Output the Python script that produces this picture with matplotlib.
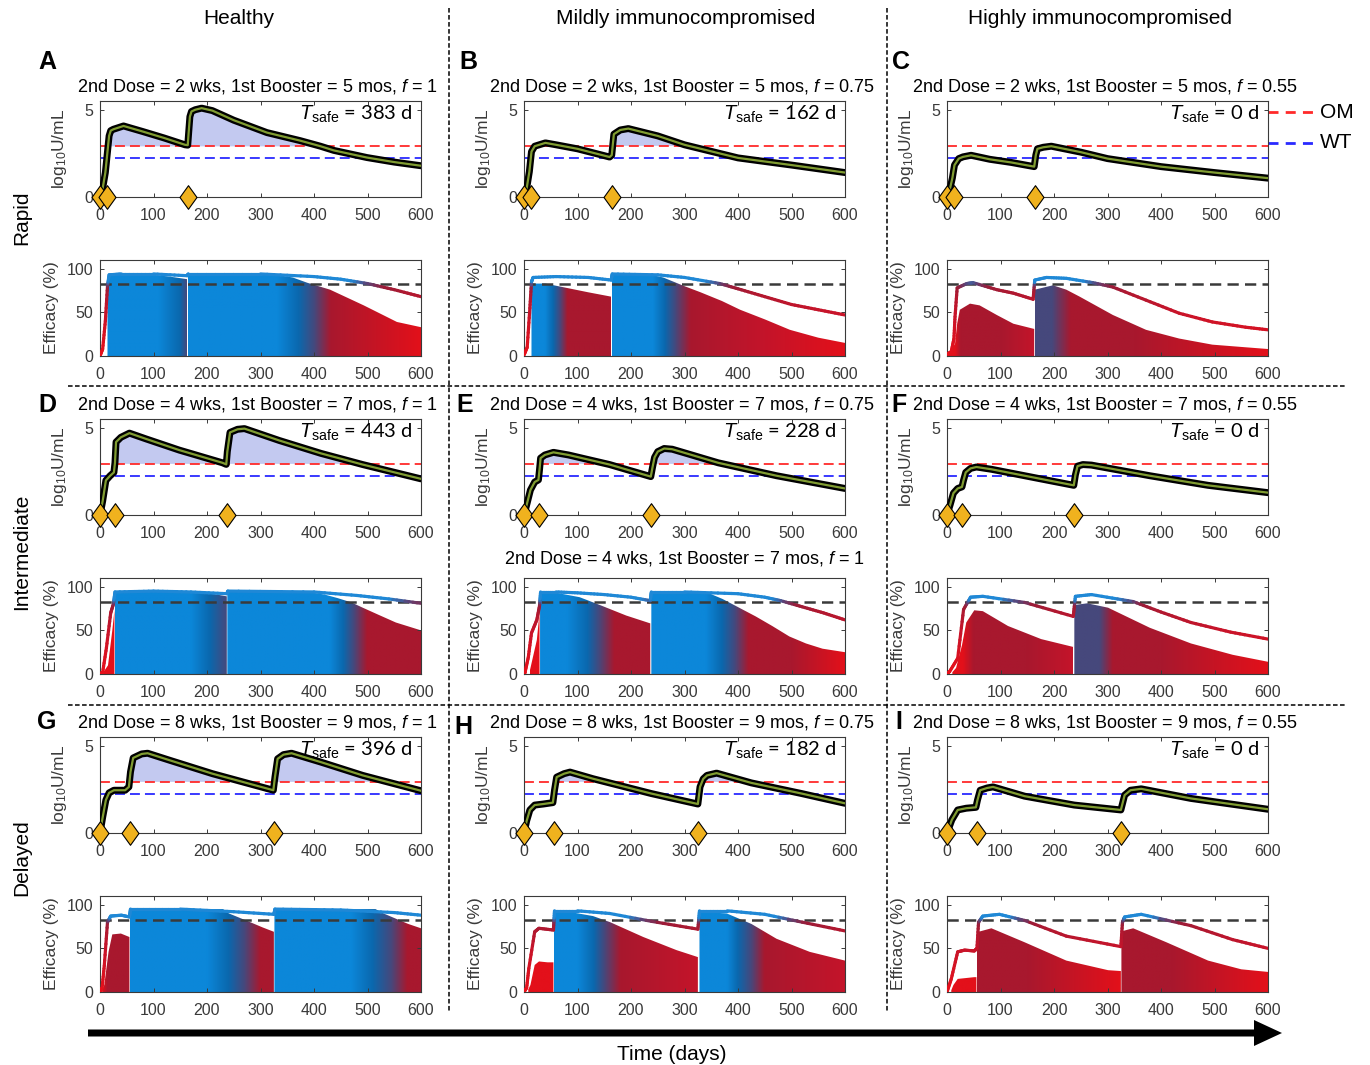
import numpy as np
import matplotlib
matplotlib.use("Agg")
import matplotlib.pyplot as plt
from matplotlib.collections import LineCollection
from matplotlib.colors import LinearSegmentedColormap
from matplotlib.patches import Polygon, FancyArrow
from matplotlib.path import Path

plt.rcParams['font.family'] = ['Liberation Sans', 'DejaVu Sans']
plt.rcParams['mathtext.fontset'] = 'custom'
plt.rcParams['mathtext.rm'] = 'Liberation Sans'
plt.rcParams['mathtext.it'] = 'Liberation Sans:italic'

# ---------------- data ----------------
groups = ["Healthy", "Mildly immunocompromised", "Highly immunocompromised"]
schedules = ["Rapid", "Intermediate", "Delayed"]
f_values = ["1", "0.75", "0.55"]
dose_wks = [2, 4, 8]
booster_mos = [5, 7, 9]
second_dose_day = [14, 28, 56]
booster_day = [164, 238, 326]
tsafe = [[383, 162, 0], [443, 228, 0], [396, 182, 0]]
OM_level = 2.93
WT_level = 2.25
eff_threshold = 83

# antibody titre, log10 U/mL  (day, value)
ab_A = [(0, 0), (5, 0.5), (10, 1.4), (14, 2.6), (17, 3.5), (20, 3.8), (25, 3.88), (44, 4.07), (80, 3.75),
        (120, 3.38), (159, 2.99), (164, 2.97), (166, 3.8), (168, 4.6), (171, 4.9), (178, 5.0), (190, 5.09),
        (210, 4.95), (250, 4.4), (312, 3.69), (374, 3.23), (412, 2.91), (437, 2.67), (499, 2.26),
        (550, 2.0), (600, 1.79)]
ab_B = [(0, 0), (5, 0.5), (10, 1.45), (14, 2.6), (20, 2.91), (40, 3.1), (60, 2.99), (100, 2.76), (160, 2.29),
        (164, 2.4), (166, 3.0), (168, 3.6), (180, 3.84), (195, 3.92), (250, 3.5), (300, 2.99), (400, 2.24),
        (500, 1.83), (600, 1.4)]
ab_C = [(0, 0), (5, 0.4), (10, 1.08), (14, 1.83), (22, 2.2), (30, 2.3), (45, 2.39), (80, 2.16), (120, 1.98),
        (163, 1.74), (166, 2.4), (169, 2.76), (180, 2.85), (195, 2.91), (250, 2.57), (300, 2.2), (400, 1.74),
        (500, 1.4), (600, 1.08)]
ab_D = [(0, 0), (5, 0.8), (11, 1.98), (19, 2.25), (26, 2.44), (28, 3.0), (30, 4.18), (39, 4.45), (55, 4.69),
        (86, 4.36), (148, 3.72), (229, 2.99), (236, 2.9), (238, 3.63), (243, 4.73), (257, 4.91), (270, 4.95),
        (335, 4.27), (413, 3.53), (491, 2.89), (600, 2.07)]
ab_E = [(0, 0), (6, 0.7), (12, 1.43), (20, 1.89), (27, 2.01), (29, 2.6), (31, 3.26), (39, 3.44), (55, 3.59),
        (83, 3.44), (160, 2.89), (237, 2.2), (240, 2.7), (244, 3.3), (250, 3.63), (262, 3.81), (277, 3.77),
        (363, 2.99), (472, 2.25), (600, 1.52)]
ab_F = [(0, 0), (6, 0.6), (12, 1.25), (20, 1.52), (28, 1.61), (31, 2.0), (35, 2.44), (44, 2.67), (55, 2.75),
        (83, 2.62), (145, 2.25), (237, 1.7), (240, 2.3), (244, 2.8), (254, 2.89), (270, 2.86), (379, 2.25),
        (488, 1.7), (600, 1.28)]
ab_G = [(0, 0), (5, 0.9), (11, 1.89), (17, 2.3), (26, 2.45), (47, 2.45), (54, 2.64), (57, 3.5), (62, 4.3),
        (78, 4.53), (89, 4.57), (132, 4.15), (210, 3.4), (324, 2.45), (327, 3.2), (332, 4.25), (343, 4.49),
        (358, 4.57), (413, 4.06), (491, 3.3), (600, 2.42)]
ab_H = [(0, 0), (5, 0.7), (11, 1.32), (20, 1.6), (36, 1.66), (54, 1.74), (57, 2.45), (61, 3.2), (75, 3.4),
        (86, 3.49), (129, 3.11), (238, 2.26), (325, 1.66), (329, 2.64), (335, 3.1), (342, 3.3), (360, 3.43),
        (425, 2.87), (519, 2.26), (600, 1.7)]
ab_I = [(0, 0), (9, 0.75), (20, 1.32), (36, 1.42), (54, 1.47), (57, 1.89), (62, 2.45), (75, 2.58), (86, 2.64),
        (145, 2.11), (238, 1.6), (325, 1.32), (329, 1.8), (332, 2.17), (343, 2.45), (363, 2.53), (456, 1.98),
        (600, 1.36)]

# efficacy (%) upper curve (day, value)
line_A = [(0, 0), (5, 8), (10, 40), (14, 80), (17, 93), (40, 94), (100, 94), (163, 92), (165, 94), (300, 94),
          (400, 91), (450, 88), (500, 83), (550, 76), (600, 68)]
line_B = [(0, 1), (6, 10), (11, 55), (14, 85), (17, 90), (60, 91), (120, 90), (163, 87), (165, 94), (250, 93),
          (300, 90), (366, 83), (400, 77), (450, 68), (500, 59), (550, 53), (600, 47)]
line_C = [(0, 2), (8, 5), (13, 20), (15, 45), (19, 78), (37, 83), (49, 84), (93, 76), (124, 72), (161, 65),
          (164, 87), (186, 90), (223, 89), (273, 84), (310, 79), (372, 64), (434, 49), (496, 39), (558, 33),
          (600, 30)]
line_D = [(0, 0), (5, 2), (12, 30), (20, 70), (25, 80), (28, 94), (100, 95), (170, 94), (237, 92), (239, 95),
          (400, 94), (480, 90), (540, 86), (600, 81)]
line_E = [(0, 0), (2, 2), (8, 19), (14, 47), (24, 62), (29, 78), (31, 94), (60, 94), (100, 93), (150, 91),
          (200, 88), (236, 84), (238, 94), (300, 94), (400, 92), (450, 88), (480, 84), (520, 77), (560, 70),
          (600, 62)]
line_F = [(0, 0), (5, 3), (20, 18), (31, 74), (44, 88), (67, 89), (145, 82), (236, 66), (240, 89), (270, 91),
          (348, 83), (400, 71), (456, 59), (530, 48), (600, 40)]
line_G = [(0, 0), (4, 5), (8, 30), (14, 80), (20, 87), (40, 88), (55, 86), (57, 95), (150, 95), (250, 92),
          (325, 89), (327, 95), (450, 94), (550, 91), (600, 88)]
line_H = [(0, 0), (5, 5), (9, 27), (20, 69), (28, 73), (55, 71), (57, 93), (100, 93), (160, 90), (238, 81),
          (325, 72), (328, 93), (380, 93), (450, 89), (520, 80), (600, 70)]
line_I = [(0, 0), (8, 15), (20, 46), (33, 48), (51, 47), (56, 50), (59, 80), (67, 87), (98, 89), (145, 82),
          (223, 64), (325, 52), (328, 80), (332, 86), (363, 89), (456, 76), (534, 60), (600, 50)]

# efficacy filled envelopes, one list per dose interval (day, top value)
fill_A = [[(14, 90), (16, 94), (60, 94), (100, 93), (130, 91), (163, 88)],
          [(164, 94), (250, 94), (330, 93), (360, 90), (387, 84), (430, 76), (493, 58), (555, 39), (600, 33)]]
fill_B = [[(14, 80), (16, 83), (40, 83), (80, 78), (120, 73), (163, 68)],
          [(164, 94), (230, 94), (260, 90), (300, 80), (330, 73), (370, 63), (404, 53), (450, 42), (497, 30),
           (550, 21), (600, 15)]]
fill_C = [[(0, 2), (6, 5), (15, 14), (19, 37), (24, 53), (43, 60), (61, 58), (93, 47), (124, 37), (163, 31)],
          [(164, 76), (198, 81), (223, 76), (248, 68), (310, 47), (372, 30), (434, 20), (496, 13), (558, 10),
           (600, 8)]]
fill_D = [[(5, 1), (15, 10), (23, 50), (27, 73)],
          [(28, 95), (150, 95), (200, 93), (237, 89)],
          [(238, 95), (380, 95), (420, 91), (444, 87), (470, 82), (491, 76), (520, 68), (553, 59), (600, 50)]]
fill_E = [[(11, 4), (24, 39), (29, 70)],
          [(30, 94), (61, 93), (104, 88), (142, 79), (191, 67), (236, 58)],
          [(238, 94), (340, 94), (371, 86), (402, 76), (433, 66), (464, 55), (496, 43), (527, 35), (558, 29),
           (600, 25)]]
fill_F = [[(10, 2), (17, 7), (28, 33), (36, 59), (51, 73), (67, 72), (114, 55), (176, 40), (236, 31)],
          [(238, 79), (262, 81), (301, 76), (379, 53), (456, 35), (534, 22), (600, 14)]]
fill_G = [[(4, 2), (8, 8), (16, 46), (23, 66), (39, 67), (47, 65), (55, 63)],
          [(56, 95), (230, 95), (241, 90), (273, 82), (304, 74), (325, 69)],
          [(326, 95), (515, 95), (530, 90), (553, 84), (576, 78), (600, 73)]]
fill_H = [[(8, 3), (12, 8), (20, 31), (28, 35), (44, 34), (55, 34)],
          [(56, 92), (83, 92), (129, 87), (161, 80), (223, 63), (285, 48), (325, 40)],
          [(328, 92), (379, 90), (425, 78), (472, 61), (534, 46), (600, 36)]]
fill_I = [[(8, 2), (12, 8), (20, 15), (51, 17), (55, 17)],
          [(56, 60), (59, 69), (83, 73), (145, 57), (223, 36), (301, 25), (325, 24)],
          [(326, 65), (329, 70), (348, 73), (410, 57), (488, 36), (550, 26), (600, 23)]]

# colour stops of each filled interval (day, colour key)
shade_A = [[(14, 'b'), (110, 'b'), (150, 'db'), (163, 's')],
           [(164, 'b'), (330, 'b'), (370, 'db'), (400, 's'), (430, 'dr'), (600, 'r')]]
shade_B = [[(14, 'b'), (40, 'b'), (55, 'db'), (68, 's'), (82, 'dr'), (163, 'dr')],
           [(164, 'b'), (240, 'b'), (262, 'db'), (282, 's'), (310, 'dr'), (450, 'rr'), (600, 'r')]]
shade_C = [[(0, 'r'), (15, 'r'), (25, 'dr'), (100, 'dr'), (163, 'rr')],
           [(164, 's'), (195, 's'), (230, 'dr'), (350, 'dr'), (600, 'r')]]
shade_D = [[(5, 'r'), (27, 'r')],
           [(28, 'b'), (170, 'b'), (205, 'db'), (237, 's')],
           [(238, 'b'), (430, 'b'), (455, 'db'), (475, 's'), (500, 'dr'), (600, 'dr')]]
shade_E = [[(11, 'r'), (29, 'r')],
           [(30, 'b'), (80, 'b'), (118, 'db'), (140, 's'), (168, 'dr'), (236, 'dr')],
           [(238, 'b'), (340, 'b'), (370, 'db'), (395, 's'), (420, 'dr'), (500, 'dr'), (600, 'r')]]
shade_F = [[(10, 'r'), (30, 'r'), (50, 'dr'), (150, 'dr'), (236, 'rr')],
           [(238, 's'), (285, 's'), (310, 'dr'), (400, 'dr'), (600, 'r')]]
shade_G = [[(4, 'r'), (14, 'dr'), (55, 'dr')],
           [(56, 'b'), (200, 'b'), (240, 'db'), (270, 's'), (300, 'dr'), (325, 'dr')],
           [(326, 'b'), (470, 'b'), (510, 'db'), (545, 's'), (575, 'dr'), (600, 'dr')]]
shade_H = [[(8, 'r'), (55, 'r')],
           [(56, 'b'), (100, 'b'), (130, 'db'), (150, 's'), (180, 'dr'), (325, 'rr')],
           [(328, 'b'), (380, 'b'), (400, 'db'), (425, 's'), (450, 'dr'), (600, 'rr')]]
shade_I = [[(8, 'r'), (55, 'r')],
           [(56, 'dr'), (150, 'dr'), (325, 'r')],
           [(326, 'dr'), (420, 'dr'), (600, 'r')]]

antibody = [[ab_A, ab_B, ab_C], [ab_D, ab_E, ab_F], [ab_G, ab_H, ab_I]]
eff_lines = [[line_A, line_B, line_C], [line_D, line_E, line_F], [line_G, line_H, line_I]]
eff_fills = [[fill_A, fill_B, fill_C], [fill_D, fill_E, fill_F], [fill_G, fill_H, fill_I]]
eff_shades = [[shade_A, shade_B, shade_C], [shade_D, shade_E, shade_F], [shade_G, shade_H, shade_I]]

palette = {'b': '#0c87d9', 'db': '#0a68ae', 's': '#46487c', 'dr': '#a8182e', 'rr': '#c4142a', 'r': '#e3101a'}
line_cmap = LinearSegmentedColormap.from_list(
    'eff', [(0, '#e8101a'), (50 / 110, '#c8142a'), (72 / 110, '#b01830'), (79 / 110, '#9a1c38'),
            (83 / 110, '#5a4478'), (86 / 110, '#1f88d6'), (1, '#1f88d6')])

# ---------------- layout (pixels) ----------------
W, H = 1370, 1065
col_x = [100, 524, 947]
ax_w, ax_h = 321, 96
ab_top = [101, 419, 737]
eff_top = [260, 578, 896]
gray = '#3a3a3a'

fig = plt.figure(figsize=(W / 100, H / 100), dpi=100)
bg = fig.add_axes([0, 0, 1, 1], zorder=-1)
bg.set_xlim(0, W)
bg.set_ylim(H, 0)
bg.axis('off')


def px_axes(x, top):
    return fig.add_axes([x / W, 1 - (top + ax_h) / H, ax_w / W, ax_h / H])


def style(ax):
    ax.set_xlim(0, 600)
    ax.set_xticks(range(0, 601, 100))
    ax.tick_params(direction='in', top=True, right=True, length=3, width=0.7, colors=gray,
                   labelsize=11.5)
    ax.tick_params(axis='x', pad=8)
    ax.tick_params(axis='y', pad=5)
    for s in ax.spines.values():
        s.set_color(gray)
        s.set_linewidth(0.8)


diamond = Path([(-0.72, 0), (0, 1), (0.72, 0), (0, -1), (-0.72, 0)],
               [Path.MOVETO, Path.LINETO, Path.LINETO, Path.LINETO, Path.CLOSEPOLY])


def gradient_fill(ax, pts, stops):
    t0, t1 = pts[0][0], pts[-1][0]
    poly = Polygon([(t0, 0)] + list(pts) + [(t1, 0)], closed=True, facecolor='none', edgecolor='none')
    ax.add_patch(poly)
    span = max(t1 - t0, 1e-6)
    cstops = [(min(max((d - t0) / span, 0), 1), palette[c]) for d, c in stops]
    cstops[0] = (0.0, cstops[0][1])
    cstops[-1] = (1.0, cstops[-1][1])
    cmap = LinearSegmentedColormap.from_list('g', cstops)
    im = ax.imshow(np.linspace(0, 1, 256)[None, :], cmap=cmap, extent=(t0, t1, 0, 110),
                   aspect='auto', origin='lower', zorder=1, interpolation='bilinear')
    im.set_clip_path(poly)


def colored_line(ax, pts):
    segs, cols = [], []
    for (ta, va), (tb, vb) in zip(pts[:-1], pts[1:]):
        ts = np.linspace(ta, tb, 9)
        vs = np.linspace(va, vb, 9)
        for k in range(8):
            segs.append([(ts[k], vs[k]), (ts[k + 1], vs[k + 1])])
            cols.append(line_cmap(((vs[k] + vs[k + 1]) / 2) / 110))
    ax.add_collection(LineCollection(segs, colors=cols, linewidths=2.3, capstyle='round', zorder=4))


letters = 'ABCDEFGHI'
letter_xy = [[(47, 62), (468, 62), (901, 62)],
             [(47, 405), (465, 405), (899, 405)],
             [(47, 722), (463, 727), (899, 722)]]
title_y = [86, 405, 722]

for r in range(3):
    for c in range(3):
        x0 = col_x[c]
        # ---- antibody panel ----
        ax = px_axes(x0, ab_top[r])
        style(ax)
        t = np.array([p[0] for p in antibody[r][c]], dtype=float)
        v = np.array([p[1] for p in antibody[r][c]], dtype=float)
        ax.fill_between(t, OM_level, v, where=v > OM_level, interpolate=True,
                        color='#c3c9f0', lw=0, zorder=1)
        ax.axhline(OM_level, color='#ff2a2a', lw=1.3, dashes=(5.5, 2.8), zorder=2)
        ax.axhline(WT_level, color='#2a2aff', lw=1.3, dashes=(5.5, 2.8), zorder=2)
        ax.plot(t, v, color='black', lw=5, solid_capstyle='round', zorder=3)
        ax.plot(t, v, color='#809c32', lw=1.6, zorder=4)
        doses = [0, second_dose_day[r], booster_day[r]]
        ax.plot(doses, [0, 0, 0], linestyle='none', marker=diamond, markersize=17,
                mfc='#f0b21e', mec='black', mew=0.8, clip_on=False, zorder=6)
        ax.set_ylim(0, 5.5)
        ax.set_yticks([0, 5])
        ax.text(0.972, 0.86, r'$T_{\mathrm{safe}}$ = %d d' % tsafe[r][c], transform=ax.transAxes,
                ha='right', va='center', fontsize=14.5, family=['Lato', 'DejaVu Sans'])
        bg.text(x0 - 40, ab_top[r] + ax_h / 2, r'log$_{10}$U/mL', rotation=90, ha='center',
                va='center', fontsize=12.5, color=gray)
        bg.text(x0 + ax_w / 2 - 3, title_y[r],
                r'2nd Dose = %d wks, 1st Booster = %d mos, $f$ = %s' % (dose_wks[r], booster_mos[r], f_values[c]),
                ha='center', va='center', fontsize=13)
        lx, ly = letter_xy[r][c]
        bg.text(lx, ly, letters[3 * r + c], ha='center', va='center', fontsize=18, fontweight='bold')

        # ---- efficacy panel ----
        ax2 = px_axes(x0, eff_top[r])
        style(ax2)
        for seg, stops in zip(eff_fills[r][c], eff_shades[r][c]):
            gradient_fill(ax2, seg, stops)
        ax2.axhline(eff_threshold, color=gray, lw=1.8, dashes=(4.5, 2.5), zorder=3)
        colored_line(ax2, eff_lines[r][c])
        ax2.set_xlim(0, 600)
        ax2.set_ylim(0, 110)
        ax2.set_yticks([0, 50, 100])
        bg.text(x0 - 48, eff_top[r] + ax_h / 2, 'Efficacy (%)', rotation=90, ha='center',
                va='center', fontsize=12.5, color=gray)
        if r == 1 and c == 1:
            bg.text(x0 + ax_w / 2, eff_top[r] - 19,
                    r'2nd Dose = 4 wks, 1st Booster = 7 mos, $f$ = 1',
                    ha='center', va='center', fontsize=13)

# column and row headings
for c, name in enumerate(groups):
    bg.text([239, 686, 1100][c], 19, name, ha='center', va='center', fontsize=15)
for r, name in enumerate(schedules):
    bg.text(22, [218, 552, 858][r], name, rotation=90, ha='center', va='center', fontsize=15)

# separators
for xs in (449, 887):
    bg.plot([xs, xs], [8, 1012], color='black', lw=1.1, dashes=(3, 1.6))
for ys in (386, 705):
    bg.plot([68, 1345], [ys, ys], color='black', lw=1.1, dashes=(3, 1.6))

# legend
bg.plot([1268, 1318], [112, 112], color='#ff2a2a', lw=2, dashes=(3.6, 2.6))
bg.plot([1268, 1318], [143, 143], color='#2a2aff', lw=2, dashes=(3.6, 2.6))
bg.text(1320, 112, 'OM', ha='left', va='center', fontsize=15)
bg.text(1320, 143, 'WT', ha='left', va='center', fontsize=15)

# time arrow
bg.add_patch(FancyArrow(88, 1033, 1282 - 88, 0, width=7, head_width=26, head_length=28,
                        length_includes_head=True, color='black', lw=0))
bg.text(672, 1054, 'Time (days)', ha='center', va='center', fontsize=15)

fig.savefig('out.png', dpi=100)
